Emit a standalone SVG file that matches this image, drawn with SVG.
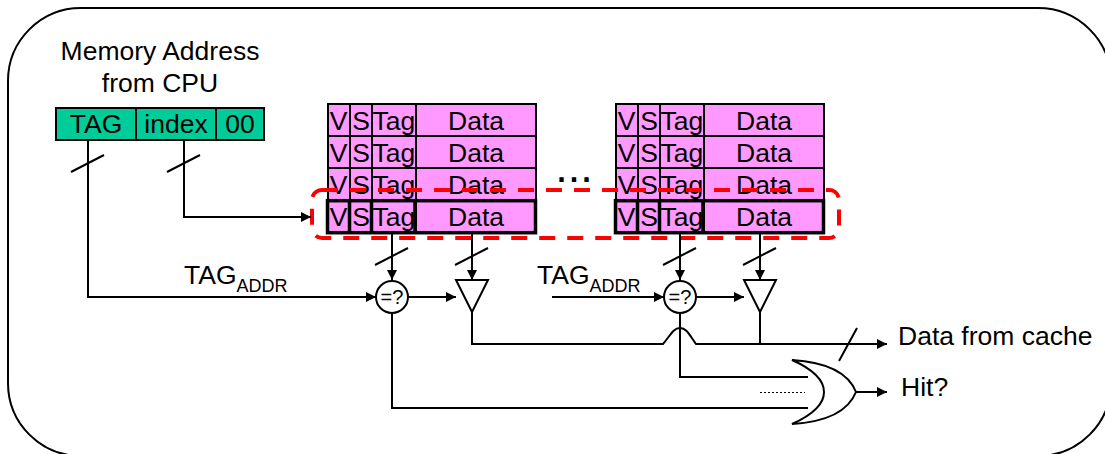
<svg xmlns="http://www.w3.org/2000/svg" width="1105" height="454" viewBox="0 0 1105 454">
<defs>
<marker id="arrow" markerUnits="userSpaceOnUse" markerWidth="11" markerHeight="10" refX="10" refY="5" orient="auto"><path d="M0 0L10 5L0 10Z" fill="#000"/></marker>
</defs>
<style>
text{font-family:"Liberation Sans",Arial,sans-serif;fill:#000}
.l{font-size:26.5px}
.m{text-anchor:middle}
.cell{fill:#ff99ff;stroke:#000;stroke-width:2}
.hl{fill:none;stroke:#000;stroke-width:3.5}
.w{fill:none;stroke:#000;stroke-width:2}
.a{marker-end:url(#arrow)}
.sym{fill:#fff;stroke:#000;stroke-width:2}
</style>
<rect id="frame" x="8" y="8" width="1103" height="448" rx="73" ry="73" fill="#fff" stroke="#000" stroke-width="2"/>
<g id="address"><rect x="56" y="108" width="208" height="32" fill="#00cc99" stroke="#000" stroke-width="2"/><path d="M136 108V140M216 108V140" class="w"/>
<text x="96" y="133" class="l m">TAG</text><text x="176" y="133" class="l m">index</text><text x="240" y="133" class="l m">00</text></g>
<g id="address-label"><text x="160" y="60" class="l m">Memory Address</text><text x="160" y="92" class="l m">from CPU</text></g>
<g id="way1">
<rect x="328" y="104" width="208" height="128" class="cell"/>
<g class="l"><text x="338.500" y="130" class="m">V</text><text x="361" y="130" class="m">S</text><text x="372.500" y="130">Tag</text>
<text x="338.500" y="162" class="m">V</text><text x="361" y="162" class="m">S</text><text x="372.500" y="162">Tag</text>
<text x="338.500" y="194" class="m">V</text><text x="361" y="194" class="m">S</text><text x="372.500" y="194">Tag</text>
<text x="338.500" y="226" class="m">V</text><text x="361" y="226" class="m">S</text><text x="372.500" y="226">Tag</text></g>
<rect x="416" y="104" width="120" height="128" class="cell"/>
<path d="M328 136H536M328 168H536M328 200H536M350 104V200M372 104V200" class="w"/>
<g class="l"><text x="476" y="130" class="m">Data</text><text x="476" y="162" class="m">Data</text><text x="476" y="194" class="m">Data</text><text x="476" y="226" class="m">Data</text></g>
<rect x="327.500" y="200.700" width="208" height="32" class="hl"/><path d="M349.500 201V232M371.500 201V232M415 201V232" class="hl" stroke-width="2.500"/>
</g>
<g id="way2">
<rect x="616" y="104" width="208" height="128" class="cell"/>
<g class="l"><text x="626.500" y="130" class="m">V</text><text x="649" y="130" class="m">S</text><text x="660.500" y="130">Tag</text>
<text x="626.500" y="162" class="m">V</text><text x="649" y="162" class="m">S</text><text x="660.500" y="162">Tag</text>
<text x="626.500" y="194" class="m">V</text><text x="649" y="194" class="m">S</text><text x="660.500" y="194">Tag</text>
<text x="626.500" y="226" class="m">V</text><text x="649" y="226" class="m">S</text><text x="660.500" y="226">Tag</text></g>
<rect x="704" y="104" width="120" height="128" class="cell"/>
<path d="M616 136H824M616 168H824M616 200H824M638 104V200M660 104V200" class="w"/>
<g class="l"><text x="764" y="130" class="m">Data</text><text x="764" y="162" class="m">Data</text><text x="764" y="194" class="m">Data</text><text x="764" y="226" class="m">Data</text></g>
<rect x="615.500" y="200.700" width="208" height="32" class="hl"/><path d="M637.500 201V232M659.500 201V232M703 201V232" class="hl" stroke-width="2.500"/>
</g>
<text id="dots" x="574" y="182" font-size="45" class="m">...</text>
<rect id="selection" x="312" y="190" width="527" height="48" rx="10" fill="none" stroke="#ff0000" stroke-width="4" stroke-dasharray="16 12"/>
<g id="connectors">
<path d="M88 140V297H376" class="w a"/>
<path d="M184 140V217H311" class="w a"/>
<path d="M392 233V280" class="w a"/><path d="M472 233V280" class="w a"/>
<path d="M680 233V280" class="w a"/><path d="M760 233V280" class="w a"/>
<path d="M408 297H456" class="w a"/><path d="M696 297H744" class="w a"/>
<path d="M552 297H664" class="w a"/>
<path d="M472 312V344H663C670 336 673 328 680 328C687 328 690 336 696 344H887" class="w a"/>
<path d="M760 312V344" class="w"/>
<path d="M680 312V377H808" class="w"/>
<path d="M392 312V408H808" class="w"/>
<path d="M760 392.500H805" fill="none" stroke="#000" stroke-width="1" stroke-dasharray="2 2"/>
<path d="M856 392H887" class="w a"/>
<path d="M71 172L104 155M167 172L200 155M375 265L408 248M455 265L488 248M663 265L696 248M743 265L776 248M839 361L857 328" class="w"/>
</g>
<g id="cmp1"><circle cx="392" cy="297" r="16" class="sym"/><text x="392" y="304" font-size="20" class="m">=?</text></g>
<g id="cmp2"><circle cx="680" cy="297" r="16" class="sym"/><text x="680" y="304" font-size="20" class="m">=?</text></g>
<path id="buf1" d="M456 280H488L472 312Z" class="sym"/>
<path id="buf2" d="M744 280H776L760 312Z" class="sym"/>
<path id="or" d="M792 360C825 362 848 372 856 392C848 412 825 422 792 424C810 416 824 406 824 392C824 378 810 368 792 360Z" fill="none" stroke="#000" stroke-width="2"/>
<text x="184" y="284" class="l">TAG<tspan font-size="18" dy="8">ADDR</tspan></text>
<text x="537" y="284" class="l">TAG<tspan font-size="18" dy="8">ADDR</tspan></text>
<text x="898" y="345" class="l">Data from cache</text>
<text x="901" y="396" class="l">Hit?</text>
</svg>
